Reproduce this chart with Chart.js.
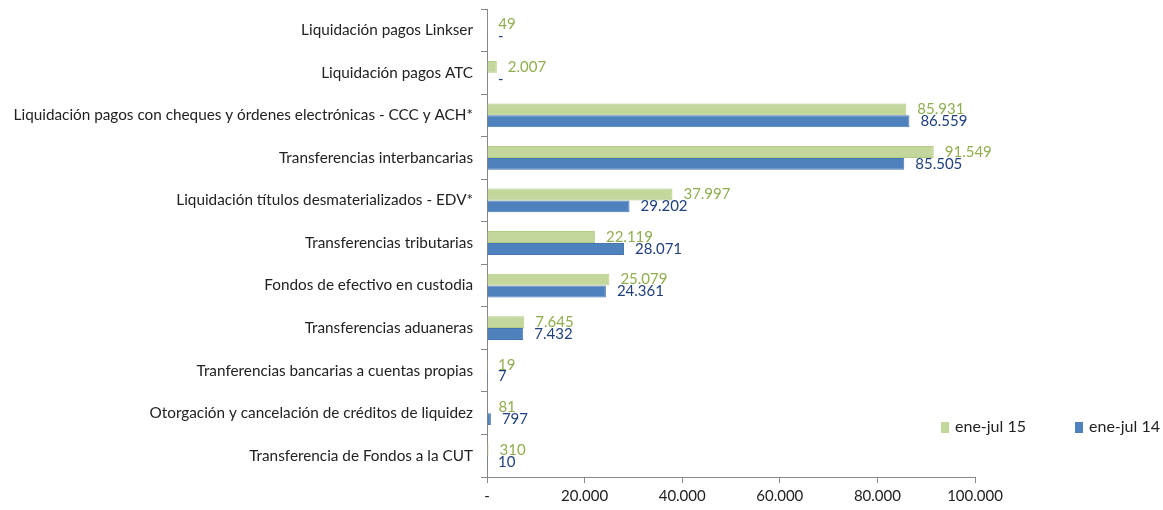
<!DOCTYPE html>
<html>
<head>
<meta charset="utf-8">
<script src="https://cdn.jsdelivr.net/npm/chart.js@4.4.1/dist/chart.umd.min.js"></script>
<style>
  html, body { margin: 0; padding: 0; background: #fff; }
  #wrap { width: 1163px; height: 510px; position: relative; }
</style>
</head>
<body>
<div id="wrap"><canvas id="chart"></canvas></div>
<script>
// ── Data ──────────────────────────────────────────────────────────────
const categories = [
  'Liquidación pagos Linkser',
  'Liquidación pagos ATC',
  'Liquidación pagos con cheques y órdenes electrónicas - CCC y ACH*',
  'Transferencias interbancarias',
  'Liquidación títulos desmaterializados - EDV*',
  'Transferencias tributarias',
  'Fondos de efectivo en custodia',
  'Transferencias aduaneras',
  'Tranferencias bancarias a cuentas propias',
  'Otorgación y cancelación de créditos de liquidez',
  'Transferencia de Fondos a la CUT'
];
const seriesNames = ['ene-jul 15', 'ene-jul 14'];
const values15 = [49, 2007, 85931, 91549, 37997, 22119, 25079, 7645, 19, 81, 310];
const values14 = [0, 0, 86559, 85505, 29202, 28071, 24361, 7432, 7, 797, 10];
const xTicks = [0, 20000, 40000, 60000, 80000, 100000];

const FONT = "Lato, 'Liberation Sans', sans-serif";
const fillColors = ['#c3d69b', '#4f81bd'];
const borderColors = ['#b4cc86', '#4676b0'];
const labelColors = ['#8fae4f', '#1f3f7f'];

function fmt(v) {
  if (v === 0) return '-';
  return String(Math.round(v)).replace(/\B(?=(\d{3})+(?!\d))/g, '.');
}

// value labels at bar ends
const valueLabels = {
  id: 'valueLabels',
  afterDatasetsDraw(chart) {
    const ctx = chart.ctx;
    ctx.save();
    ctx.font = '15px ' + FONT;
    ctx.textBaseline = 'middle';
    ctx.textAlign = 'left';
    chart.data.datasets.forEach((ds, i) => {
      const meta = chart.getDatasetMeta(i);
      meta.data.forEach((bar, j) => {
        ctx.fillStyle = labelColors[i];
        ctx.fillText(fmt(ds.data[j]), bar.x + 11, bar.y);
      });
    });
    ctx.restore();
  }
};

// legend drawn inside the plot, lower right
const innerLegend = {
  id: 'innerLegend',
  afterDraw(chart) {
    const ctx = chart.ctx;
    const y = 427;
    const xs = [941, 1075];
    ctx.save();
    ctx.font = '16px ' + FONT;
    ctx.textBaseline = 'middle';
    seriesNames.forEach((name, i) => {
      ctx.fillStyle = fillColors[i];
      ctx.fillRect(xs[i], y - 5, 8, 11);
      ctx.fillStyle = '#222';
      ctx.fillText(name, xs[i] + 14, y);
    });
    ctx.restore();
  }
};

new Chart(document.getElementById('chart'), {
  type: 'bar',
  data: {
    labels: categories,
    datasets: [
      { label: seriesNames[0], data: values15, backgroundColor: fillColors[0], borderColor: borderColors[0], borderWidth: 1 },
      { label: seriesNames[1], data: values14, backgroundColor: fillColors[1], borderColor: borderColors[1], borderWidth: 1 }
    ]
  },
  options: {
    indexAxis: 'y',
    responsive: true,
    maintainAspectRatio: false,
    animation: false,
    categoryPercentage: 0.56,
    barPercentage: 1,
    layout: { padding: { left: 0, right: 188, top: 9, bottom: 2 } },
    plugins: {
      legend: { display: false },
      tooltip: { enabled: false }
    },
    scales: {
      x: {
        min: 0,
        max: 100000,
        afterBuildTicks(scale) { scale.ticks = xTicks.map(v => ({ value: v })); },
        afterFit(scale) { scale.height = 31; },
        border: { color: '#868686', width: 1 },
        grid: { drawOnChartArea: false, drawTicks: true, tickLength: 6, color: '#868686' },
        ticks: {
          color: '#222',
          font: { family: FONT, size: 15 },
          padding: 4,
          callback: v => fmt(v)
        }
      },
      y: {
        afterFit(scale) {
          scale.width = 487;
          scale.paddingTop = 0;
          scale.paddingBottom = 0;
        },
        border: { color: '#868686', width: 1 },
        grid: { offset: true, drawOnChartArea: false, drawTicks: true, tickLength: 6, color: '#868686' },
        ticks: {
          color: '#222',
          font: { family: FONT, size: 15.3 },
          padding: 8,
          autoSkip: false
        }
      }
    }
  },
  plugins: [valueLabels, innerLegend]
});
</script>
</body>
</html>
